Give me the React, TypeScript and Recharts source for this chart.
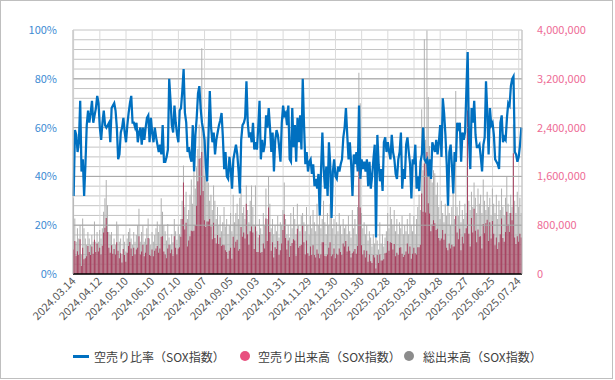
import {
    Bar,
    CartesianGrid,
    ComposedChart,
    Line,
    ReferenceLine,
    XAxis,
    YAxis,
} from "recharts";

const FONT = "'Noto Sans CJK JP', 'Noto Sans', sans-serif";

// every 20th trading day gets a label
const tickLabels = [
    "2024.03.14", "2024.04.12", "2024.05.10", "2024.06.10", "2024.07.10", "2024.08.07",
    "2024.09.05", "2024.10.03", "2024.10.31", "2024.11.29", "2024.12.30", "2025.01.30",
    "2025.02.28", "2025.03.28", "2025.04.28", "2025.05.27", "2025.06.25", "2025.07.24",
];

// short selling ratio, %
const shortRatio = [
    32, 59, 57, 50, 54, 71, 42, 47, 32, 45, 61, 67, 62, 66, 71, 62, 65, 68, 73, 70,
    60, 55, 62, 67, 61, 60, 61, 62, 54, 68, 69, 70, 67, 60, 47, 49, 58, 60, 64, 58,
    54, 61, 66, 70, 73, 62, 62, 60, 62, 54, 58, 60, 53, 60, 55, 60, 64, 65, 54, 64,
    58, 54, 60, 56, 53, 50, 53, 49, 61, 46,
    46, 48, 51, 80, 71, 61, 58, 69, 62, 57, 54, 67, 68, 75, 84, 66, 62, 50, 52, 48,
    46, 61, 42, 57, 64, 74, 77, 68, 62, 59, 55, 44, 38, 57, 75, 60, 54, 58, 49, 55,
    58, 61, 63, 66, 56, 43, 50, 40, 39, 48, 43, 35, 47, 50, 53, 49, 42, 33, 55, 61,
    62, 64, 79, 62, 56, 58, 54, 62,
    51, 54, 51, 60, 71, 47, 55, 50, 53, 65, 60, 68, 60, 50, 58, 42, 55, 59, 57, 52,
    46, 62, 69, 65, 66, 61, 69, 47, 46, 68, 52, 61, 46, 64, 54, 65, 51, 80, 61, 45,
    50, 42, 46, 47, 41, 45, 36, 39, 35, 41, 24, 43, 58, 43, 35, 44, 32, 54, 45, 23,
    42, 47, 40, 39, 44, 42, 45, 47, 56, 60,
    68, 57, 47, 54, 45, 32, 49, 45, 50, 42, 69, 39, 47, 43, 46, 42, 47, 36, 46, 35,
    40, 47, 53, 15, 57, 45, 38, 43, 34, 54, 56, 50, 54, 50, 47, 57, 50, 47, 41, 39,
    47, 50, 58, 35, 43, 39, 53, 56, 50, 45, 31, 47, 45, 53, 35, 40, 34, 46, 49, 60,
    47, 46, 47, 40, 47, 39, 54, 52,
    50, 55, 49, 54, 61, 48, 72, 66, 57, 45, 28, 50, 53, 44, 33, 50, 46, 62, 60, 62,
    46, 58, 55, 58, 75, 91, 55, 43, 68, 62, 71, 57, 52, 52, 53, 48, 42, 53, 56, 79,
    66, 49, 68, 61, 62, 57, 47, 46, 45, 43, 62, 65, 54, 56, 55, 64, 70, 69, 77, 80,
    81, 50, 49, 46, 48, 53, 60,
];

// short selling volume, thousands of shares
const shortVolumeK = [
    400, 540, 300, 375, 310, 570, 130, 430, 240, 260, 290, 460, 360, 310, 450, 330, 560, 360, 500, 370,
    430, 320, 465, 680, 760, 920, 690, 430, 350, 470, 330, 410, 320, 520, 380, 260, 340, 190, 410, 310,
    200, 350, 460, 525, 420, 295, 430, 320, 400, 430, 620, 320, 370, 480, 290, 350, 480, 590, 310, 300,
    400, 290, 380, 420, 460, 350, 420, 610, 620, 370,
    320, 260, 420, 480, 340, 400, 300, 620, 430, 320, 420, 440, 610, 900, 1500, 730, 840, 450, 550, 620,
    710, 700, 710, 800, 1120, 1520, 1890, 1290, 2000, 1360, 880, 770, 860, 860, 900, 780, 570, 840, 590, 500,
    640, 490, 600, 460, 480, 470, 390, 360, 250, 380, 430, 250, 610, 430, 530, 560, 380, 410, 770, 610,
    680, 580, 1150, 650, 480, 700, 780, 680,
    410, 780, 360, 360, 640, 350, 360, 500, 420, 910, 540, 1090, 690, 380, 520, 270, 440, 410, 540, 310,
    390, 500, 720, 980, 590, 400, 550, 280, 460, 510, 570, 550, 300, 740, 430, 460, 480, 800, 520, 320,
    550, 340, 300, 450, 310, 470, 310, 270, 400, 330, 260, 320, 520, 520, 300, 290, 320, 430, 520, 290,
    320, 420, 260, 330, 310, 420, 360, 310, 500, 450,
    540, 370, 450, 380, 270, 340, 370, 410, 330, 460, 1900, 1090, 470, 320, 390, 270, 380, 200, 320, 210,
    180, 310, 270, 90, 310, 180, 320, 220, 220, 240, 340, 350, 540, 380, 520, 510, 400, 490, 290, 350,
    310, 430, 440, 330, 280, 310, 370, 500, 330, 450, 250, 330, 430, 340, 320, 440, 440, 480, 1320, 1020,
    1810, 1010, 2000, 1160, 990, 700, 810, 880,
    830, 720, 740, 590, 550, 580, 720, 560, 660, 430, 390, 500, 420, 480, 450, 450, 950, 680, 570, 740,
    390, 610, 500, 670, 750, 2680, 660, 450, 920, 680, 1070, 710, 520, 730, 610, 620, 420, 820, 670, 830,
    890, 540, 850, 580, 870, 660, 470, 600, 410, 520, 650, 910, 590, 530, 690, 1020, 810, 690, 1000, 880,
    1980, 600, 490, 620, 530, 660, 600,
];

// total volume, thousands of shares
const totalVolumeK = [
    1240, 910, 530, 750, 580, 800, 310, 910, 750, 580, 475, 690, 580, 475, 640, 530, 860, 530, 690, 530,
    720, 580, 750, 1020, 1240, 1540, 1130, 690, 640, 690, 475, 580, 475, 860, 800, 530, 580, 310, 640, 530,
    370, 580, 690, 750, 580, 475, 690, 530, 640, 800, 1070, 530, 690, 800, 530, 580, 750, 910, 580, 475,
    690, 530, 640, 750, 860, 690, 800, 1240, 1020, 800,
    700, 550, 820, 600, 480, 650, 520, 900, 700, 560, 780, 650, 900, 1200, 1780, 1100, 1350, 900, 1050, 1300,
    1550, 1150, 1680, 1400, 1750, 2050, 2450, 1900, 3700, 2300, 1600, 1750, 2250, 1500, 1200, 1300, 1050, 1450, 1200, 900,
    1100, 800, 950, 700, 850, 1100, 780, 900, 650, 800, 1000, 700, 1300, 850, 1000, 1150, 900, 1250, 1400, 1000,
    1100, 900, 1450, 1050, 850, 1200, 1450, 1100,
    800, 1450, 700, 600, 900, 750, 650, 1000, 800, 1400, 900, 1600, 1150, 750, 900, 650, 800, 700, 950, 600,
    850, 800, 1050, 1500, 900, 650, 800, 600, 1000, 750, 1100, 900, 650, 1150, 800, 700, 950, 1000, 850, 700,
    1100, 800, 650, 950, 750, 1050, 850, 700, 1150, 800, 1100, 750, 900, 1200, 850, 650, 1000, 800, 1150, 1250,
    750, 900, 650, 850, 700, 1000, 800, 650, 900, 750,
    800, 650, 950, 700, 600, 1050, 750, 900, 650, 1100, 3300, 2800, 1000, 750, 850, 650, 800, 550, 700, 600,
    450, 650, 500, 600, 550, 400, 850, 500, 650, 450, 600, 700, 1000, 750, 1100, 900, 800, 1050, 700, 900,
    650, 850, 750, 950, 650, 800, 700, 900, 650, 1000, 800, 700, 950, 650, 900, 1100, 1300, 1050, 2700, 1700,
    3850, 2200, 3990, 2900, 2100, 1800, 1500, 1700,
    1650, 1300, 1500, 1100, 900, 1200, 1000, 850, 1150, 950, 1400, 1000, 800, 1100, 1350, 900, 3000, 1100, 950, 1200,
    850, 1050, 900, 1150, 1000, 2950, 1200, 1050, 1350, 1100, 1500, 1250, 1000, 1400, 1150, 1300, 1000, 1550, 1200, 1050,
    1350, 1100, 1250, 950, 1400, 1150, 1000, 1300, 900, 1200, 1050, 1400, 1100, 950, 1250, 1600, 1150, 1000, 1300, 1100,
    2450, 1200, 1000, 1350, 1100, 1250, 1000,
];

const chartData = shortRatio.map((ratio, i) => ({
    idx: i,
    ratio,
    shortVolume: shortVolumeK[i] * 1000,
    totalVolume: totalVolumeK[i] * 1000,
}));

const labelTicks = tickLabels.map((_, i) => i * 20);
const pctTicks = Array.from({ length: 26 }, (_, i) => i * 4);
const majorPct = [20, 40, 60, 80];
const volTicks = [0, 800000, 1600000, 2400000, 3200000, 4000000];

function DateTick({ x, y, payload }: any) {
    const ty = y - 1;
    return (
        <text
            x={x}
            y={ty}
            dy={4}
            textAnchor="end"
            transform={`rotate(-45, ${x}, ${ty})`}
            fontSize={11}
            fontFamily={FONT}
            fill="#595959"
        >
            {tickLabels[payload.value / 20]}
        </text>
    );
}

function LegendRow() {
    const text = { fontSize: 12, color: "#404040", fontFamily: FONT, whiteSpace: "nowrap" as const };
    const dot = (color: string) => ({
        width: 10,
        height: 10,
        borderRadius: "50%",
        background: color,
    });
    return (
        <div style={{ position: "absolute", left: 0, top: 347, width: 615, height: 18 }}>
            <div style={{ position: "absolute", left: 73, top: 0, height: 18, display: "flex", alignItems: "center", gap: 5 }}>
                <div style={{ width: 16, height: 3, background: "#0070c0" }} />
                <span style={text}>空売り比率（SOX指数）</span>
            </div>
            <div style={{ position: "absolute", left: 240, top: 0, height: 18, display: "flex", alignItems: "center", gap: 8 }}>
                <div style={dot("#e8507f")} />
                <span style={text}>空売り出来高（SOX指数）</span>
            </div>
            <div style={{ position: "absolute", left: 404, top: 0, height: 18, display: "flex", alignItems: "center", gap: 9 }}>
                <div style={dot("#8c8c8c")} />
                <span style={text}>総出来高（SOX指数）</span>
            </div>
        </div>
    );
}

export default function App() {
    return (
        <div style={{ position: "absolute", left: 0, top: 0, width: 615, height: 380, background: "#fff" }}>
            <ComposedChart
                width={615}
                height={380}
                data={chartData}
                margin={{ top: 30, right: 0, bottom: 46, left: 0 }}
                barCategoryGap={0}
                barGap={0}
            >
                <CartesianGrid xAxisId="main" yAxisId="pct" vertical={false} stroke="#c4c4c4" />
                <CartesianGrid xAxisId="main" yAxisId="pct" horizontal={false} stroke="#dadada" />
                {majorPct.map((v) => (
                    <ReferenceLine key={v} xAxisId="main" yAxisId="pct" y={v} stroke="#a6a6a6" />
                ))}
                <XAxis xAxisId="back" dataKey="idx" type="category" height={0} hide />
                <XAxis
                    xAxisId="main"
                    dataKey="idx"
                    type="category"
                    ticks={labelTicks}
                    interval={0}
                    tick={<DateTick />}
                    tickLine={false}
                    tickMargin={0}
                    axisLine={{ stroke: "#000", strokeWidth: 1.5 }}
                    height={60}
                />
                <YAxis
                    yAxisId="pct"
                    orientation="left"
                    width={73}
                    domain={[0, 100]}
                    ticks={pctTicks}
                    interval={0}
                    tickFormatter={(v) => (v % 20 === 0 ? `${v}%` : "")}
                    tickLine={false}
                    tickMargin={10}
                    axisLine={{ stroke: "#bfbfbf" }}
                    tick={{ fill: "#3d8bd3", fontSize: 11, fontFamily: FONT }}
                />
                <YAxis
                    yAxisId="vol"
                    orientation="right"
                    width={93}
                    domain={[0, 4000000]}
                    ticks={volTicks}
                    interval={0}
                    tickFormatter={(v) => v.toLocaleString("en-US")}
                    tickLine={false}
                    tickMargin={9}
                    axisLine={{ stroke: "#bfbfbf" }}
                    tick={{ fill: "#ee6b95", fontSize: 11, fontFamily: FONT }}
                />
                <Bar
                    xAxisId="back"
                    yAxisId="vol"
                    dataKey="totalVolume"
                    fill="#b0b0b0"
                    isAnimationActive={false}
                />
                <Bar
                    xAxisId="main"
                    yAxisId="vol"
                    dataKey="shortVolume"
                    fill="#a8405f"
                    isAnimationActive={false}
                />
                <Line
                    xAxisId="main"
                    yAxisId="pct"
                    dataKey="ratio"
                    type="linear"
                    stroke="#0070c0"
                    strokeWidth={2.25}
                    dot={false}
                    isAnimationActive={false}
                />
            </ComposedChart>
            <LegendRow />
            <div
                style={{
                    position: "absolute",
                    left: 0,
                    top: 0,
                    width: 613,
                    height: 379,
                    border: "1px solid #bfbfbf",
                    boxSizing: "border-box",
                    pointerEvents: "none",
                }}
            />
        </div>
    );
}
